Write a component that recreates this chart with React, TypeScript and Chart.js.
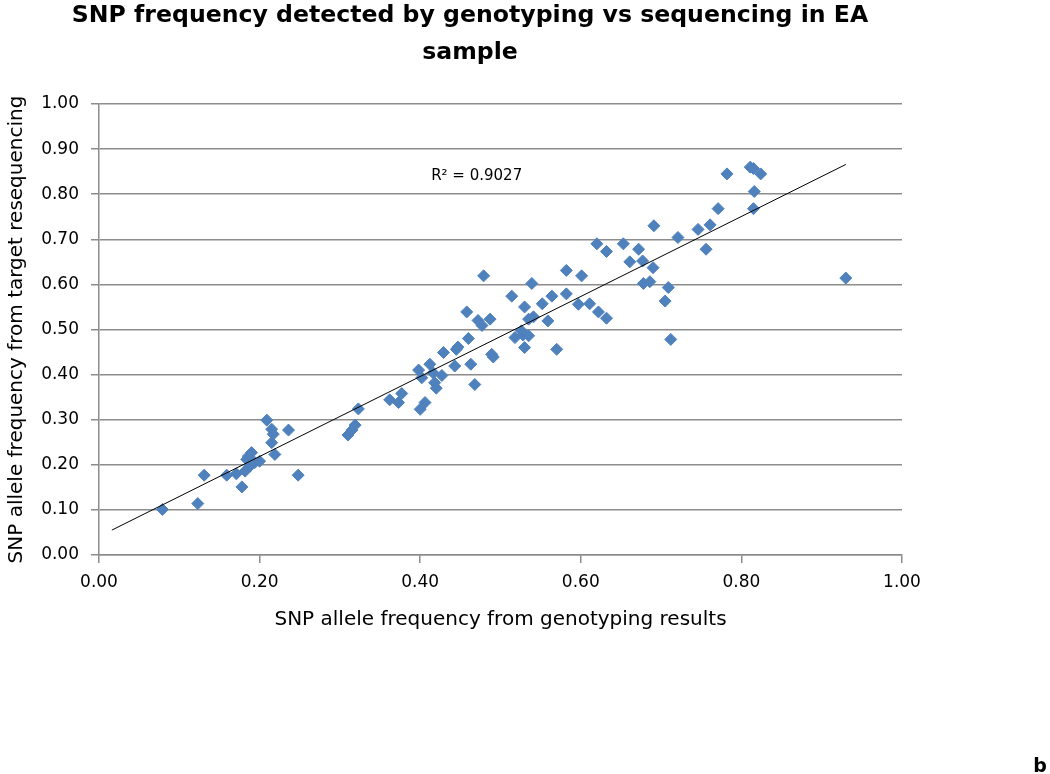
import React, { useEffect, useRef } from 'react';
import { Chart, registerables } from 'chart.js';

Chart.register(...registerables);

// SNP allele frequency from genotyping results (x)
const genotypingFreq = [
  0.079, 0.123, 0.131, 0.159, 0.171, 0.178, 0.182, 0.188, 0.186, 0.19,
  0.184, 0.194, 0.2, 0.209, 0.215, 0.217, 0.215, 0.219, 0.236, 0.248,
  0.31, 0.315, 0.319, 0.323, 0.362, 0.373, 0.377, 0.4, 0.406, 0.398,
  0.402, 0.412, 0.416, 0.427, 0.418, 0.42, 0.429, 0.443, 0.445, 0.447,
  0.46, 0.463, 0.468, 0.489, 0.491, 0.518, 0.528, 0.53, 0.535, 0.57,
  0.479, 0.458, 0.472, 0.477, 0.487, 0.514, 0.539, 0.53, 0.535, 0.541,
  0.526, 0.552, 0.564, 0.559, 0.582, 0.582, 0.601, 0.597, 0.611, 0.622,
  0.632, 0.62, 0.632, 0.653, 0.672, 0.661, 0.677, 0.69, 0.678, 0.686,
  0.709, 0.705, 0.712, 0.721, 0.691, 0.746, 0.756, 0.761, 0.771, 0.782,
  0.811, 0.815, 0.824, 0.816, 0.815, 0.93,
];

// SNP allele frequency from target resequencing (y)
const sequencingFreq = [
  0.101, 0.114, 0.177, 0.177, 0.18, 0.151, 0.186, 0.197, 0.219, 0.227,
  0.212, 0.205, 0.208, 0.299, 0.279, 0.268, 0.249, 0.223, 0.277, 0.177,
  0.266, 0.277, 0.288, 0.324, 0.344, 0.338, 0.358, 0.323, 0.338, 0.41,
  0.393, 0.423, 0.404, 0.398, 0.382, 0.37, 0.449, 0.419, 0.456, 0.461,
  0.48, 0.423, 0.378, 0.445, 0.439, 0.482, 0.488, 0.46, 0.486, 0.456,
  0.619, 0.539, 0.52, 0.509, 0.523, 0.574, 0.602, 0.55, 0.523, 0.528,
  0.497, 0.557, 0.574, 0.519, 0.631, 0.579, 0.619, 0.556, 0.557, 0.539,
  0.525, 0.69, 0.673, 0.69, 0.678, 0.65, 0.652, 0.637, 0.602, 0.606,
  0.593, 0.563, 0.478, 0.704, 0.73, 0.722, 0.678, 0.732, 0.768, 0.845,
  0.86, 0.857, 0.845, 0.806, 0.768, 0.614,
];

// Linear trendline
const trendSlope = 0.887;
const trendIntercept = 0.041;
const trendXRange = [0.016, 0.93];
const rSquaredText = 'R\u00B2 = 0.9027';
const rSquaredAnchor = [0.527, 0.84];

const titleLines = ['SNP frequency detected by genotyping vs sequencing in EA', 'sample'];
const xAxisTitle = 'SNP allele frequency from genotyping results';
const yAxisTitle = 'SNP allele frequency from target resequencing';
const panelLetter = 'b';
const axisMin = 0;
const axisMax = 1;
const xTickStep = 0.2;
const yTickStep = 0.1;

const FONT = '"DejaVu Sans", sans-serif';
const GRID = '#8c8c8c';
const MARKER = '#4F81BD';

export default function App() {
  const ref = useRef<HTMLCanvasElement>(null);

  useEffect(() => {
    if (!ref.current) return;
    const points = genotypingFreq.map((x, i) => ({ x, y: sequencingFreq[i] }));
    const trend = trendXRange.map((x) => ({ x, y: trendIntercept + trendSlope * x }));

    const overlay = {
      id: 'overlay',
      afterDraw(chart: any) {
        const ctx = chart.ctx;
        ctx.save();
        ctx.fillStyle = '#000';
        ctx.textAlign = 'center';
        ctx.textBaseline = 'alphabetic';
        ctx.font = `bold 23.6px ${FONT}`;
        ctx.fillText(titleLines[0], 470, 22);
        ctx.fillText(titleLines[1], 470, 59);

        const xs = chart.scales.x;
        const ys = chart.scales.y;
        ctx.font = `15px ${FONT}`;
        ctx.textAlign = 'right';
        ctx.textBaseline = 'middle';
        ctx.fillText(rSquaredText, xs.getPixelForValue(rSquaredAnchor[0]), ys.getPixelForValue(rSquaredAnchor[1]));

        ctx.font = `bold 19px ${FONT}`;
        ctx.textAlign = 'center';
        ctx.textBaseline = 'alphabetic';
        ctx.fillText(panelLetter, 1040, 772);
        ctx.restore();
      },
    };

    const chart = new Chart(ref.current, {
      type: 'scatter',
      data: {
        datasets: [
          {
            type: 'line',
            data: trend,
            showLine: true,
            borderColor: '#000',
            borderWidth: 1,
            pointRadius: 0,
            fill: false,
            order: 0,
          } as any,
          {
            data: points,
            pointStyle: 'rectRot',
            pointRadius: 6,
            pointBackgroundColor: MARKER,
            pointBorderColor: MARKER,
            pointBorderWidth: 1,
            order: 1,
          },
        ],
      },
      options: {
        animation: false,
        responsive: false,
        devicePixelRatio: 1,
        layout: { padding: { top: 104, left: 0, right: 148, bottom: 0 } },
        plugins: {
          legend: { display: false },
          tooltip: { enabled: false },
          title: { display: false },
        },
        scales: {
          x: {
            type: 'linear',
            min: axisMin,
            max: axisMax,
            afterFit: (s: any) => { s.height = 219; },
            ticks: {
              stepSize: xTickStep,
              padding: 9,
              color: '#000',
              font: { family: FONT, size: 17 },
              callback: (v: any) => Number(v).toFixed(2),
            },
            grid: { drawOnChartArea: false, drawTicks: true, tickLength: 8, color: GRID, lineWidth: 1.5 },
            border: { display: true, color: GRID, width: 1.5 },
            title: {
              display: true,
              text: xAxisTitle,
              color: '#000',
              font: { family: FONT, size: 20 },
              padding: { top: 0, bottom: 142 },
            },
          },
          y: {
            type: 'linear',
            min: axisMin,
            max: axisMax,
            afterFit: (s: any) => { s.width = 99; },
            ticks: {
              stepSize: yTickStep,
              padding: 12,
              color: '#000',
              font: { family: FONT, size: 17 },
              callback: (v: any) => Number(v).toFixed(2),
            },
            grid: { drawOnChartArea: true, drawTicks: true, tickLength: 8, color: GRID, lineWidth: 1.5 },
            border: { display: true, color: GRID, width: 1.5 },
            title: {
              display: true,
              text: yAxisTitle,
              color: '#000',
              font: { family: FONT, size: 20 },
              padding: { top: 5, bottom: 0 },
            },
          },
        },
      },
      plugins: [overlay],
    });
    return () => chart.destroy();
  }, []);

  return (
    <div style={{ position: 'fixed', left: 0, top: 0, width: 1050, height: 774, background: '#fff' }}>
      <canvas ref={ref} width={1050} height={774} style={{ display: 'block' }} />
    </div>
  );
}
